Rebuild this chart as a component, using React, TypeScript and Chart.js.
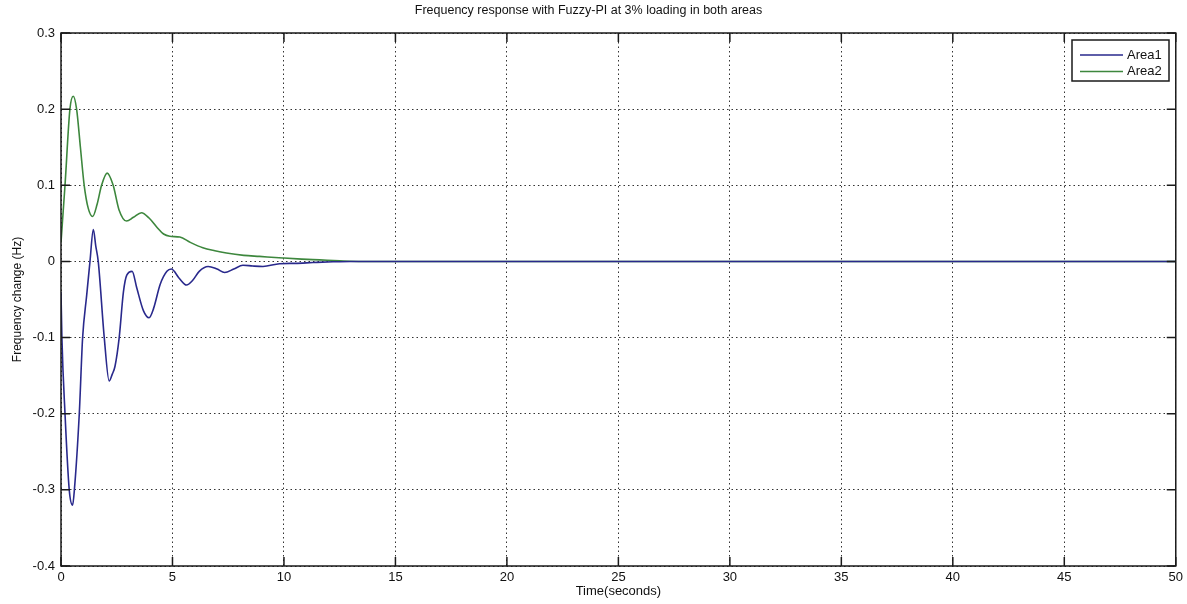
import React, { useEffect, useRef } from "react";
import { Chart, registerables } from "chart.js";

Chart.register(...registerables);

const chartTitle = "Frequency response with Fuzzy-PI at 3% loading in both areas";
const xAxisTitle = "Time(seconds)";
const yAxisTitle = "Frequency change (Hz)";
const seriesNames = ["Area1", "Area2"];
const seriesColors = ["#29298c", "#3d873d"];

const area1Time = [0, 0.04, 0.18, 0.37, 0.52, 0.6, 0.82, 0.97, 1.15, 1.3, 1.45, 1.56, 1.67, 1.94, 2.16, 2.3, 2.42, 2.61, 2.8, 2.95, 3.19, 3.4, 3.7, 3.95, 4.15, 4.45, 4.75, 4.95, 5.3, 5.63, 5.9, 6.2, 6.6, 7.0, 7.34, 7.75, 8.16, 8.6, 9.06, 9.8, 10.5, 11.3, 12.2, 13, 20, 30, 40, 50];
const area1Freq = [-0.04, -0.1, -0.2, -0.3, -0.32, -0.3, -0.2, -0.1, -0.045, 0.0, 0.042, 0.02, 0.0, -0.1, -0.157, -0.148, -0.138, -0.1, -0.04, -0.018, -0.013, -0.035, -0.065, -0.074, -0.062, -0.03, -0.013, -0.01, -0.022, -0.031, -0.025, -0.013, -0.0066, -0.01, -0.0145, -0.01, -0.005, -0.006, -0.0066, -0.003, -0.0025, -0.0015, -0.0005, 0, 0, 0, 0, 0];

const area2Time = [0, 0.18, 0.4, 0.55, 0.7, 0.87, 1.04, 1.22, 1.42, 1.62, 1.82, 2.07, 2.34, 2.6, 2.94, 3.25, 3.61, 3.95, 4.3, 4.6, 4.88, 5.33, 5.8, 6.36, 6.9, 7.42, 8.2, 8.9, 9.95, 10.8, 11.6, 12.5, 13.5, 20, 30, 40, 50];
const area2Freq = [0.025, 0.1, 0.2, 0.217, 0.2, 0.15, 0.1, 0.07, 0.059, 0.075, 0.1, 0.116, 0.1, 0.068, 0.053, 0.058, 0.064, 0.057, 0.045, 0.036, 0.033, 0.032, 0.025, 0.018, 0.014, 0.011, 0.008, 0.0066, 0.0045, 0.003, 0.002, 0.0008, 0, 0, 0, 0, 0];

const xTicks = [0, 5, 10, 15, 20, 25, 30, 35, 40, 45, 50];
const yTicks = [-0.4, -0.3, -0.2, -0.1, 0, 0.1, 0.2, 0.3];

const FONT = "'Liberation Sans', Arial, sans-serif";

const framePlugin = {
  id: "matlabFrame",
  afterDatasetsDraw(chart: any) {
    const { ctx, chartArea } = chart;
    const { left, right, top, bottom } = chartArea;
    const xs = chart.scales.x;
    const ys = chart.scales.y;
    ctx.save();
    ctx.strokeStyle = "#1a1a1a";
    ctx.lineWidth = 1.5;
    ctx.strokeRect(left, top, right - left, bottom - top);
    const L = 9;
    ctx.beginPath();
    xTicks.forEach((v) => {
      const px = xs.getPixelForValue(v);
      ctx.moveTo(px, bottom);
      ctx.lineTo(px, bottom - L);
      ctx.moveTo(px, top);
      ctx.lineTo(px, top + L);
    });
    yTicks.forEach((v) => {
      const py = ys.getPixelForValue(v);
      ctx.moveTo(left, py);
      ctx.lineTo(left + L, py);
      ctx.moveTo(right, py);
      ctx.lineTo(right - L, py);
    });
    ctx.stroke();

    // legend box
    const bx = 1072, by = 40, bw = 97, bh = 41;
    ctx.fillStyle = "#ffffff";
    ctx.fillRect(bx, by, bw, bh);
    ctx.strokeStyle = "#1a1a1a";
    ctx.lineWidth = 1.5;
    ctx.strokeRect(bx, by, bw, bh);
    ctx.font = `13px ${FONT}`;
    ctx.textBaseline = "middle";
    ctx.textAlign = "left";
    seriesNames.forEach((name, i) => {
      const y = by + 15 + i * 16.5;
      ctx.strokeStyle = seriesColors[i];
      ctx.lineWidth = 1.5;
      ctx.beginPath();
      ctx.moveTo(bx + 8, y);
      ctx.lineTo(bx + 51, y);
      ctx.stroke();
      ctx.fillStyle = "#111";
      ctx.fillText(name, bx + 55, y);
    });
    ctx.restore();
  },
};

export default function App() {
  const ref = useRef<HTMLCanvasElement | null>(null);
  useEffect(() => {
    if (!ref.current) return;
    const toPts = (t: number[], v: number[]) => t.map((x, i) => ({ x, y: v[i] }));
    const chart = new Chart(ref.current, {
      type: "line",
      data: {
        datasets: [
          {
            label: seriesNames[0],
            data: toPts(area1Time, area1Freq),
            borderColor: seriesColors[0],
            borderWidth: 1.6,
            pointRadius: 0,
            cubicInterpolationMode: "monotone",
            fill: false,
          },
          {
            label: seriesNames[1],
            data: toPts(area2Time, area2Freq),
            borderColor: seriesColors[1],
            borderWidth: 1.6,
            pointRadius: 0,
            cubicInterpolationMode: "monotone",
            fill: false,
          },
        ],
      },
      options: {
        responsive: false,
        animation: false,
        layout: { padding: { left: 0, right: 10, top: 0, bottom: 0 } },
        plugins: {
          legend: { display: false },
          tooltip: { enabled: false },
          title: {
            display: true,
            text: chartTitle,
            color: "#111",
            font: { family: FONT, size: 12.5, weight: "normal" },
            padding: { top: 3, bottom: 15 },
          },
        },
        scales: {
          x: {
            type: "linear",
            min: 0,
            max: 50,
            afterFit: (s: any) => { s.height = 38; },
            afterBuildTicks: (s: any) => { s.ticks = xTicks.map((v) => ({ value: v })); },
            ticks: {
              color: "#111",
              font: { family: FONT, size: 13 },
              padding: 4,
              maxRotation: 0,
              callback: (v: any) => String(v),
            },
            grid: { color: "#333", lineWidth: 1, drawTicks: false },
            border: { display: false, dash: [1.5, 3] },
            title: {
              display: true,
              text: xAxisTitle,
              color: "#111",
              font: { family: FONT, size: 13 },
              padding: { top: 0, bottom: 5 },
            },
          },
          y: {
            type: "linear",
            min: -0.4,
            max: 0.3,
            afterFit: (s: any) => { s.width = 61; },
            afterBuildTicks: (s: any) => { s.ticks = yTicks.map((v) => ({ value: v })); },
            ticks: {
              color: "#111",
              font: { family: FONT, size: 13 },
              padding: 6,
              callback: (v: any) => (Math.abs(v) < 1e-9 ? "0" : Number(v).toFixed(1)),
            },
            grid: { color: "#333", lineWidth: 1, drawTicks: false },
            border: { display: false, dash: [1.5, 3] },
            title: {
              display: true,
              text: yAxisTitle,
              color: "#111",
              font: { family: FONT, size: 12 },
              padding: { top: 10, bottom: 0 },
            },
          },
        },
      },
      plugins: [framePlugin],
    });
    return () => chart.destroy();
  }, []);
  return (
    <div style={{ position: "absolute", left: 0, top: 0, width: 1187, height: 604, background: "#fff" }}>
      <canvas ref={ref} width={1187} height={604} />
    </div>
  );
}
